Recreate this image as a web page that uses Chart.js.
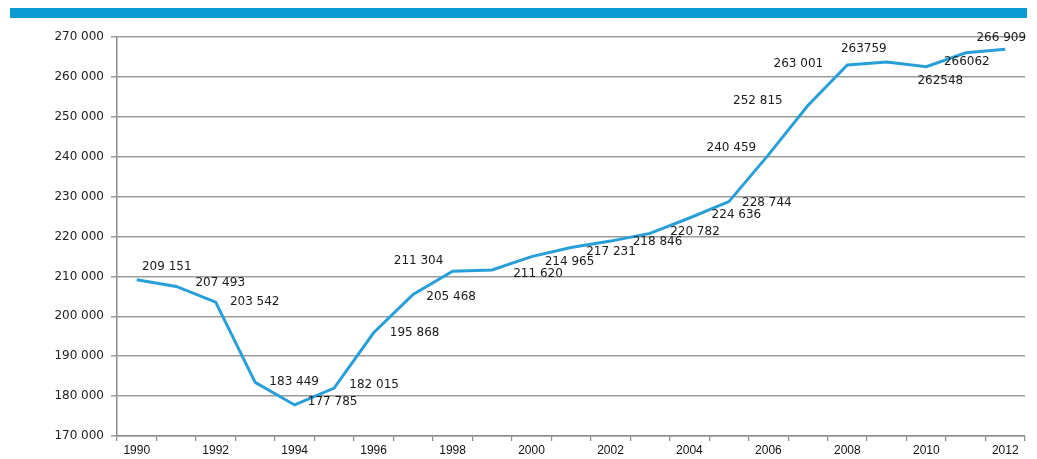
<!DOCTYPE html>
<html>
<head>
<meta charset="utf-8">
<script src="https://cdn.jsdelivr.net/npm/chart.js@4/dist/chart.umd.min.js"></script>
<style>
    html, body { margin: 0; padding: 0; background: #fff; }
    #wrap { position: relative; width: 1037px; height: 459px; }
    #topbar { position: absolute; left: 10px; top: 8px; width: 1017px; height: 10px; background: #0a9bd3; }
    canvas { position: absolute; left: 0; top: 0; }
</style>
</head>
<body>
<div id="wrap">
    <canvas id="chart" width="1037" height="459"></canvas>
    <div id="topbar"></div>
</div>
<script>
// years on the x axis
const years = ["1990", "1991", "1992", "1993", "1994", "1995", "1996", "1997", "1998", "1999", "2000",
    "2001", "2002", "2003", "2004", "2005", "2006", "2007", "2008", "2009", "2010", "2011", "2012"];

// series values
const values = [209151, 207493, 203542, 183449, 177785, 182015, 195868, 205468, 211304, 211620, 214965,
    217231, 218846, 220782, 224636, 228744, 240459, 252815, 263001, 263759, 262548, 266062, 266909];

// label text as printed on the chart
const valueLabels = ["209 151", "207 493", "203 542", "183 449", "177 785", "182 015", "195 868", "205 468",
    "211 304", "211 620", "214 965", "217 231", "218 846", "220 782", "224 636", "228 744", "240 459",
    "252 815", "263 001", "263759", "262548", "266062", "266 909"];

// y axis ticks
const yMin = 170000;
const yMax = 270000;
const yStep = 10000;

// where each value label sits relative to its point (px)
const labelDx = [30, 44, 39, 39, 38, 40, 41, 38, -34, 46, 38, 40, 47, 45, 47, 38, -37, -50, -49, -23, 14, 1, -4];
const labelDy = [-13, -4, 0, 0, -3, -3, 0, 2, -10, 4, 5, 4, 1, -2, -3, 1, -7, -5, -1, -13, 14, 9, -11];

function formatThousands(v) {
    return v.toString().replace(/\B(?=(\d{3})+(?!\d))/g, " ");
}

// подписи значений рядом с точками
const valueLabelPlugin = {
    id: "valueLabels",
    afterDatasetsDraw(chart) {
        const ctx = chart.ctx;
        const meta = chart.getDatasetMeta(0);
        ctx.save();
        ctx.font = "12px 'DejaVu Sans', sans-serif";
        ctx.fillStyle = "#1a1a1a";
        ctx.textAlign = "center";
        ctx.textBaseline = "middle";
        meta.data.forEach((pt, i) => {
            ctx.fillText(valueLabels[i], pt.x + labelDx[i], pt.y + labelDy[i]);
        });
        ctx.restore();
    }
};

const ctx = document.getElementById("chart").getContext("2d");

new Chart(ctx, {
    type: "line",
    data: {
        labels: years,
        datasets: [{
            data: values,
            borderColor: "#289fd8",
            borderWidth: 3,
            pointRadius: 0,
            pointHoverRadius: 0,
            tension: 0,
            fill: false
        }]
    },
    options: {
        responsive: false,
        animation: false,
        layout: {
            padding: { top: 37, right: 12, left: 0, bottom: 0 }
        },
        plugins: {
            legend: { display: false },
            tooltip: { enabled: false }
        },
        scales: {
            x: {
                offset: true,
                grid: {
                    offset: true,
                    drawOnChartArea: false,
                    drawTicks: true,
                    tickLength: 5,
                    color: "#8c8c8c",
                    lineWidth: 1.2
                },
                border: { color: "#8c8c8c", width: 1.5 },
                ticks: {
                    autoSkip: false,
                    maxRotation: 0,
                    padding: 2,
                    color: "#111",
                    font: { family: "'Liberation Sans Narrow', 'Liberation Sans', sans-serif", size: 12 },
                    callback: (val, i) => (i % 2 === 0 ? years[i] : "")
                },
                afterFit: (scale) => { scale.height = 23; }
            },
            y: {
                min: yMin,
                max: yMax,
                grid: {
                    color: "#9c9c9c",
                    lineWidth: 1.5,
                    drawTicks: true,
                    tickLength: 6
                },
                border: { color: "#8c8c8c", width: 1.5 },
                ticks: {
                    stepSize: yStep,
                    padding: 7,
                    color: "#222",
                    font: { family: "'DejaVu Sans', sans-serif", size: 12 },
                    callback: (v) => formatThousands(v)
                },
                afterFit: (scale) => { scale.width = 117; }
            }
        }
    },
    plugins: [valueLabelPlugin]
});
</script>
</body>
</html>
